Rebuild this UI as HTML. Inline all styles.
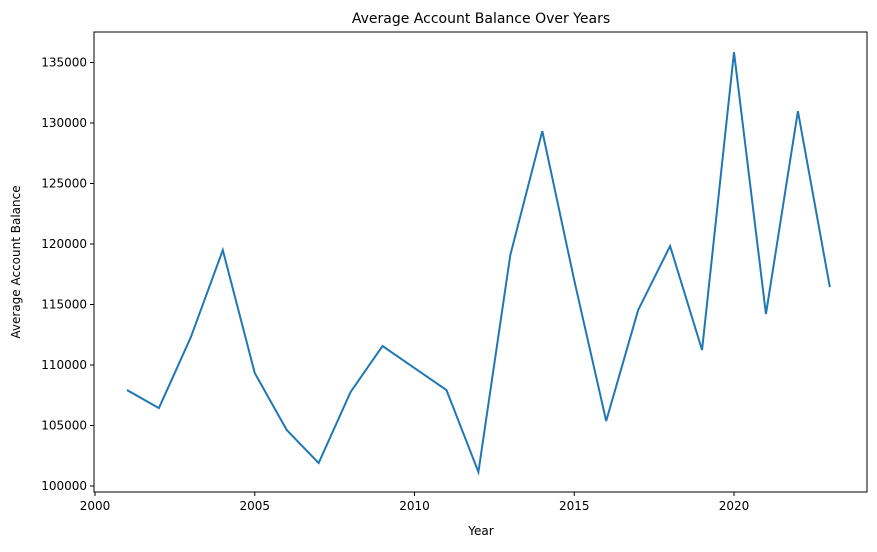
<!DOCTYPE html>
<html><head><meta charset="utf-8"><style>
body{margin:0;background:#fff;font-family:"Liberation Sans","DejaVu Sans",sans-serif}
svg text{font-family:"DejaVu Sans","Liberation Sans",sans-serif;font-size:12px;fill:#000}
</style></head><body>
<svg id="chart" width="877" height="547">
<text x="481" y="23" text-anchor="middle" style="font-size:14px">Average Account Balance Over Years</text>
<text x="481" y="535" text-anchor="middle">Year</text>
<text transform="translate(20,262) rotate(-90)" text-anchor="middle">Average Account Balance</text>
<g id="ticks"></g>
<path id="line" fill="none" stroke="#1f77b4" stroke-width="2"/>
<rect x="94" y="32" width="773" height="460" fill="none" stroke="#000" stroke-width="1"/>
</svg>
<script>
const years=[2001,2002,2003,2004,2005,2006,2007,2008,2009,2010,2011,2012,2013,2014,2015,2016,2017,2018,2019,2020,2021,2022,2023];
const balances=[107930,106440,112300,119500,109340,104630,101900,107770,111570,109750,107930,101160,119100,129330,117000,105370,114540,119830,111240,135850,114210,130980,116440];
const xTicks=[2000,2005,2010,2015,2020];
const yTicks=[100000,105000,110000,115000,120000,125000,130000,135000];
const NS="http://www.w3.org/2000/svg";
function xs(v){return 95+(v-2000)*(734-95)/20;}
function ys(v){return 486-(v-100000)*0.0121;}
const g=document.getElementById('ticks');
function mk(t,a){const e=document.createElementNS(NS,t);for(const k in a)e.setAttribute(k,a[k]);g.appendChild(e);return e;}
xTicks.forEach(t=>{const x=xs(t);
const l=mk('line',{x1:x,x2:x,y1:492,y2:496,stroke:'#000'});


const tx=mk('text',{x:x,y:510,'text-anchor':'middle'});tx.textContent=t;

});
yTicks.forEach(t=>{const y=ys(t);
const l=mk('line',{x1:90,x2:94,y1:y,y2:y,stroke:'#000'});


const tx=mk('text',{x:87,y:y+4,'text-anchor':'end'});tx.textContent=t;

});
document.getElementById('line').setAttribute('d',years.map((y,i)=>(i?'L':'M')+xs(y)+','+ys(balances[i])).join(' '));
</script>
</body></html>
